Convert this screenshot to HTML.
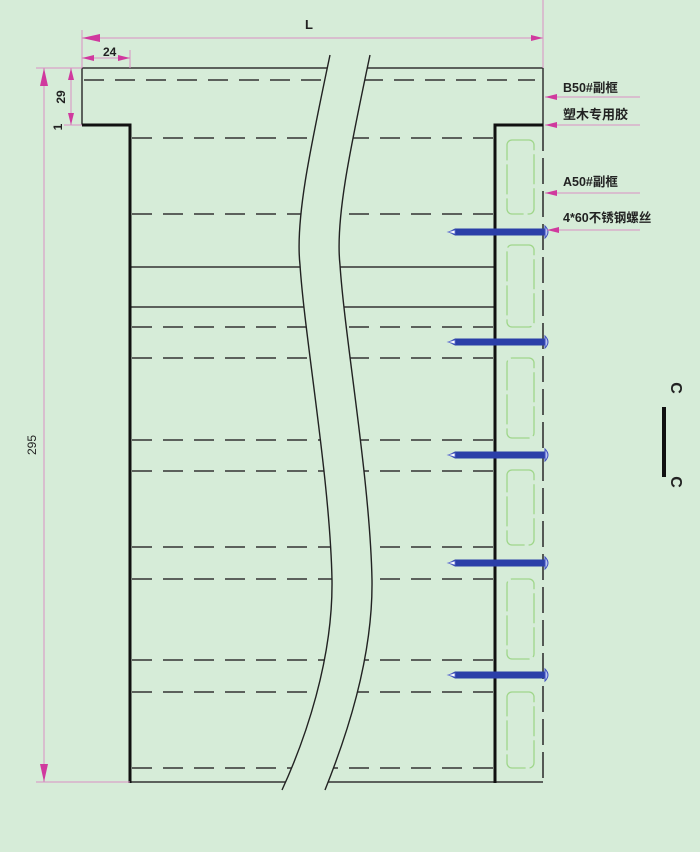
<!DOCTYPE html>
<html><head><meta charset="utf-8"><style>
html,body{margin:0;padding:0;background:#d6ecd8;}
svg{display:block;}
text{font-family:"Liberation Sans","Noto Sans CJK SC",sans-serif;fill:#222;}
</style></head><body>
<svg width="700" height="852" viewBox="0 0 700 852" xmlns="http://www.w3.org/2000/svg">
<rect width="700" height="852" fill="#d6ecd8"/>
<defs>
<marker id="a" viewBox="0 0 12 6" refX="12" refY="3" markerWidth="12" markerHeight="6" orient="auto-start-reverse" markerUnits="userSpaceOnUse"><path d="M0,0 L12,3 L0,6 Z" fill="#d0399e"/></marker>
<marker id="b" viewBox="0 0 18 8" refX="18" refY="4" markerWidth="18" markerHeight="8" orient="auto-start-reverse" markerUnits="userSpaceOnUse"><path d="M0,0 L18,4 L0,8 Z" fill="#d0399e"/></marker>
</defs>
<g stroke="#333" stroke-width="1.5" fill="none">
<line x1="82" y1="68" x2="543" y2="68"/>
<line x1="82" y1="68" x2="82" y2="125"/>
<line x1="543" y1="68" x2="543" y2="125"/>
<line x1="130" y1="782" x2="543" y2="782"/>
</g>
<g stroke="#333" stroke-width="1.6" fill="none" stroke-dasharray="20,11">
<line x1="84" y1="80" x2="535" y2="80"/>
<line x1="132" y1="138" x2="493" y2="138"/>
<line x1="132" y1="214" x2="493" y2="214"/>
<line x1="132" y1="327" x2="493" y2="327"/>
<line x1="132" y1="358" x2="493" y2="358"/>
<line x1="132" y1="440" x2="493" y2="440"/>
<line x1="132" y1="471" x2="493" y2="471"/>
<line x1="132" y1="547" x2="493" y2="547"/>
<line x1="132" y1="579" x2="493" y2="579"/>
<line x1="132" y1="660" x2="493" y2="660"/>
<line x1="132" y1="692" x2="493" y2="692"/>
<line x1="132" y1="768" x2="493" y2="768"/>
<line x1="543" y1="125" x2="543" y2="782" stroke-dasharray="26,7"/>
</g>
<g stroke="#333" stroke-width="1.5">
<line x1="130" y1="267" x2="495" y2="267"/>
<line x1="130" y1="307" x2="495" y2="307"/>
</g>
<g stroke="#9fd68a" stroke-width="1.3" fill="none" stroke-dasharray="30,4">
<rect x="507" y="140" width="27" height="74" rx="5"/>
<rect x="507" y="245" width="27" height="82" rx="5"/>
<rect x="507" y="358" width="27" height="80" rx="5"/>
<rect x="507" y="470" width="27" height="75" rx="5"/>
<rect x="507" y="579" width="27" height="80" rx="5"/>
<rect x="507" y="692" width="27" height="76" rx="5"/>
</g>
<path d="M330,55 C310,150 295,220 300,265 C305,340 330,480 332,580 C333,660 305,740 282,790 L325,790 C345,740 373,660 372,580 C370,480 345,340 340,265 C335,220 350,150 370,55 Z" fill="#d6ecd8" stroke="none"/>
<g stroke="#222" stroke-width="1.4" fill="none">
<path d="M330,55 C310,150 295,220 300,265 C305,340 330,480 332,580 C333,660 305,740 282,790"/>
<path d="M370,55 C350,150 335,220 340,265 C345,340 370,480 372,580 C373,660 345,740 325,790"/>
</g>
<g stroke="#111" stroke-width="3" fill="none">
<polyline points="82,125 130,125 130,783"/>
<polyline points="543,125 495,125 495,783"/>
</g>
<g>
<g id="s">
<path d="M448,232 L455,228.5 L545,228.5 L545,235.5 L455,235.5 Z" fill="#2b3fa8"/>
<path d="M448,232 L455,230 L455,234 Z" fill="#fff" stroke="#6070d0" stroke-width="0.8"/>
<path d="M545,226 Q551,232 545,238 Z" fill="#b8c4f0" stroke="#4050c0" stroke-width="1"/>
</g>
<use href="#s" y="110"/>
<use href="#s" y="223"/>
<use href="#s" y="331"/>
<use href="#s" y="443"/>
</g>
<g stroke="#d98fc4" stroke-width="1" fill="none">
<line x1="82" y1="30" x2="82" y2="68"/>
<line x1="82" y1="38" x2="543" y2="38" marker-start="url(#b)" marker-end="url(#a)"/>
<line x1="543" y1="0" x2="543" y2="68"/>
<line x1="130" y1="50" x2="130" y2="68"/>
<line x1="82" y1="58" x2="130" y2="58" marker-start="url(#a)" marker-end="url(#a)"/>
<line x1="36" y1="68" x2="82" y2="68"/>
<line x1="36" y1="782" x2="130" y2="782"/>
<line x1="44" y1="68" x2="44" y2="782" marker-start="url(#b)" marker-end="url(#b)"/>
<line x1="64" y1="125" x2="82" y2="125"/>
<line x1="71" y1="68" x2="71" y2="125" marker-start="url(#a)" marker-end="url(#a)"/>
<line x1="545" y1="97" x2="640" y2="97" marker-start="url(#a)"/>
<line x1="545" y1="125" x2="640" y2="125" marker-start="url(#a)"/>
<line x1="545" y1="193" x2="640" y2="193" marker-start="url(#a)"/>
<line x1="547" y1="230" x2="640" y2="230" marker-start="url(#a)"/>
</g>
<g font-size="13" font-weight="bold">
<text x="305" y="29">L</text>
<text x="103" y="56" font-size="12">24</text>
<text transform="translate(65,97) rotate(-90)" font-size="12" text-anchor="middle">29</text>
<text transform="translate(62,127) rotate(-90)" font-size="12" text-anchor="middle">1</text>
<text transform="translate(36,445) rotate(-90)" font-size="12" text-anchor="middle" font-weight="normal">295</text>
<text x="563" y="92" font-size="12.5">B50#副框</text>
<text x="563" y="119" font-size="13">塑木专用胶</text>
<text x="563" y="186" font-size="12.5">A50#副框</text>
<text x="563" y="222" font-size="12.5">4*60不锈钢螺丝</text>
<text transform="translate(671,388) rotate(90)" font-size="16" text-anchor="middle">C</text>
<text transform="translate(671,482) rotate(90)" font-size="16" text-anchor="middle">C</text>
</g>
<rect x="662" y="407" width="4" height="70" fill="#111"/>
</svg>
</body></html>
